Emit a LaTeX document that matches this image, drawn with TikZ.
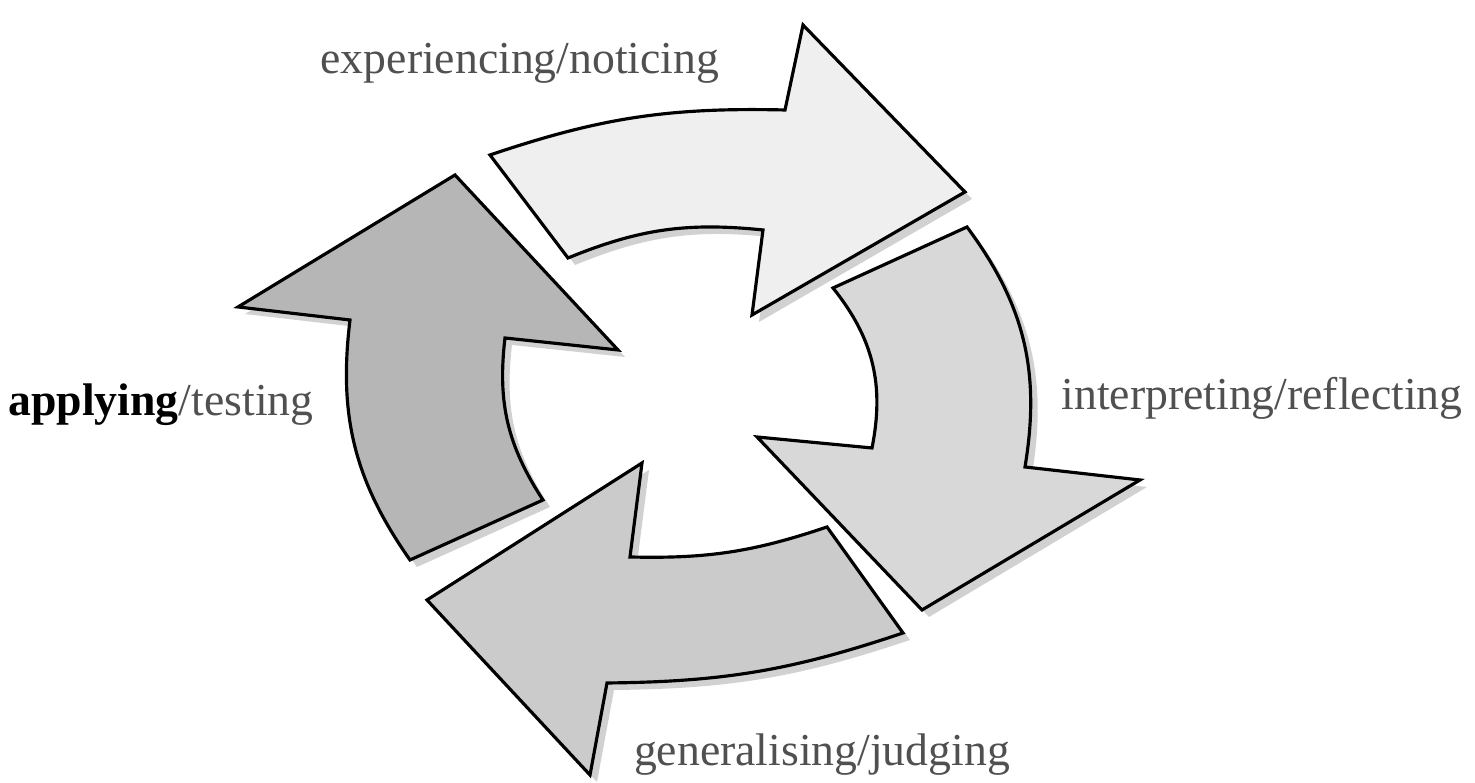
\documentclass[tikz,border=0pt]{standalone}
\usepackage{fontspec}
\setmainfont{Liberation Serif}
\usetikzlibrary{shadows, positioning}

\definecolor{expfill}{HTML}{EFEFEF}
\definecolor{intfill}{HTML}{D8D8D8}
\definecolor{genfill}{HTML}{CBCBCB}
\definecolor{appfill}{HTML}{B6B6B6}
\definecolor{labelgray}{HTML}{505050}

\begin{document}
\begin{tikzpicture}[
  x=0.01cm, y=0.01cm,
  every node/.style={font=\fontsize{13}{15}\selectfont},
  stagearrow/.style={draw=black, line width=0.9pt, line join=miter,
    drop shadow={shadow xshift=0.07cm, shadow yshift=-0.07cm, fill=black, opacity=0.18}},
  stagelabel/.style={text=labelgray, inner sep=0pt}
]
\useasboundingbox (0,0) rectangle (1475,783);

% Cycle arrows
\path[stagearrow, fill=genfill] (827,256) -- (903,150) to[bend left=9] (607,100) -- (590,8)
  -- (427,183) -- (642,320) -- (630,226) to[bend right=10] (827,256) -- cycle;
\path[stagearrow, fill=appfill] (410,223) -- (543,283) to[bend left=20] (505,445) -- (618,433)
  -- (455,608) -- (238,476) -- (350,463) to[bend right=21] (410,223) -- cycle;
\path[stagearrow, fill=expfill] (490,628) to[bend left=10] (785,673) -- (803,758)
  -- (965,591) -- (752,468) -- (763,553) to[bend right=14] (568,525) -- cycle;
\path[stagearrow, fill=intfill] (967,556) -- (833,495) to[bend left=25] (872,335) -- (757,346)
  -- (922,173) -- (1140,303) -- (1025,316) to[bend right=23] (967,556) -- cycle;

% Stage labels
\node[stagelabel] (experiencing) at (520,720) {experiencing/noticing};
\node[stagelabel] (interpreting) at (1262,385) {interpreting/reflecting};
\node[stagelabel] (generalising) at (822,28) {generalising/judging};
\node[stagelabel] (applying) at (161,378) {\textcolor{black}{\textbf{applying}}/testing};

\end{tikzpicture}
\end{document}
